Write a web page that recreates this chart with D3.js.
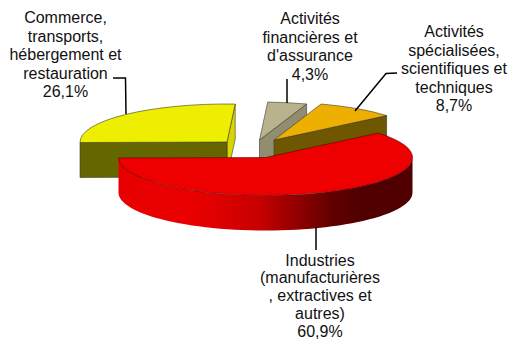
<!DOCTYPE html>
<html><head><meta charset="utf-8">
<script src="https://cdn.jsdelivr.net/npm/d3@7/dist/d3.min.js"></script>
<style>html,body{margin:0;background:#fff;overflow:hidden}svg{display:block}text{font-family:"Liberation Sans",Arial,sans-serif;font-size:16px;fill:#111}</style>
</head><body><svg id="c" width="509" height="341"></svg>
<script>
const categories = ["Industries","Commerce","Finance","Specialisees"];
const shares = [60.9, 26.1, 4.3, 8.7];
const labelLines = [
  ["Industries","(manufacturières",", extractives et","autres)","60,9%"],
  ["Commerce,","transports,","hébergement et","restauration","26,1%"],
  ["Activités","financières et","d'assurance","4,3%"],
  ["Activités","spécialisées,","scientifiques et","techniques","8,7%"]
];
const topColors = ["#ee0000","#eeee00","#b8b28e","#eeb000"];
const cutColors = [null,"#666600","#918d70","#6e5700"];
const sideCutColors = [null,"#d8d600",null,null];

// layout
const W = 509, H = 341, RX = 147, RY = 38, DEPTH = 35;
const centers = [[265.5,157.5],[227,142],[259.5,140],[274,140]];
const labelPos = [[320,265.5],[65.5,23],[310,24],[454,37]];
const lineHs = [17.9,18.5,18.5,18.5];
const leaders = [
  [[316,227],[316,250]],
  [[113,78],[125.5,78],[126,114]],
  [[287,79],[287,103]],
  [[397,73],[386,73.5],[355,111]]
];

const svg = d3.select("#c");
const defs = svg.append("defs");
const grad = defs.append("linearGradient").attr("id","redSide");
[[0,"#e80000"],[0.25,"#ea0000"],[0.48,"#c80000"],[0.58,"#9c0000"],[0.72,"#640000"],[0.82,"#500000"],[1,"#500000"]]
  .forEach(([o,c])=>grad.append("stop").attr("offset",o).attr("stop-color",c));

const rad = Math.PI/180;
const pie = d3.pie().sort(null).startAngle(50*rad).endAngle(410*rad);
const arcs = pie(shares);
const arc = d3.arc().innerRadius(0).outerRadius(RX);
const px = a => RX*Math.sin(a), py = a => -RY*Math.cos(a);
const line = d3.line();

const edge = "#3a3a2a";
function quad(pts, fill, sw=0.6){
  svg.append("path").attr("d",line(pts)+"Z").attr("fill",fill).attr("stroke",edge).attr("stroke-width",sw).attr("stroke-linejoin","round");
}
[1,2,3,0].forEach(i=>{
  const d = arcs[i], [cx,cy] = centers[i];
  const p0=[cx+px(d.startAngle),cy+py(d.startAngle)], p1=[cx+px(d.endAngle),cy+py(d.endAngle)];
  if(i===1){
    quad([[cx,cy],p1,[p1[0],p1[1]+DEPTH],[cx,cy+DEPTH]], sideCutColors[1]);
    quad([[cx,cy],p0,[p0[0],p0[1]+DEPTH],[cx,cy+DEPTH]], cutColors[1]);
  }
  if(i===2||i===3){
    quad([[cx,cy],p1,[p1[0],p1[1]+DEPTH],[cx,cy+DEPTH]], cutColors[i]);
  }
  if(i===0){
    const a0 = Math.PI/2, a1 = 1.5*Math.PI, angles = d3.range(0,61).map(k=>a0+(a1-a0)*k/60);
    const topE = angles.map(a=>[cx+px(a),cy+py(a)]), botE = angles.map(a=>[cx+px(a),cy+py(a)+DEPTH]).reverse();
    grad.attr("gradientUnits","userSpaceOnUse").attr("x1",cx-RX).attr("x2",cx+RX).attr("y1",0).attr("y2",0);
    svg.append("path").attr("d",line(topE.concat(botE))+"Z").attr("fill","url(#redSide)");
  }
  svg.append("g").attr("transform",`translate(${cx},${cy}) scale(1,${RY/RX})`)
    .append("path").attr("d",arc(d)).attr("fill",topColors[i])
    .attr("stroke",i===0?"#5a0000":edge).attr("stroke-width",0.6)
    .style("vector-effect","non-scaling-stroke");
});

leaders.forEach(l=>svg.append("path").attr("d",line(l)).attr("fill","none").attr("stroke","#000").attr("stroke-width",1.5));

labelLines.forEach((ls,i)=>{
  const t = svg.append("text").attr("text-anchor","middle");
  ls.forEach((s,k)=>t.append("tspan").attr("x",labelPos[i][0]).attr("y",labelPos[i][1]+k*lineHs[i]).text(s));
});
</script></body></html>
